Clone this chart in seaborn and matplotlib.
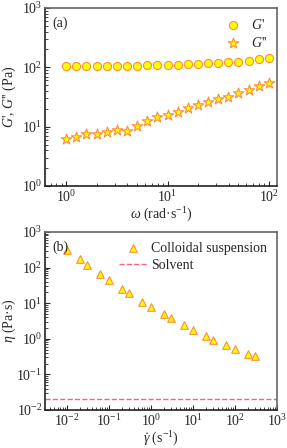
import numpy as np
import pandas as pd
import matplotlib
matplotlib.use("Agg")
import matplotlib.pyplot as plt
import seaborn as sns
from matplotlib.ticker import LogLocator, NullFormatter

# ---- data (panel a) ----
omega = [1.0, 1.26, 1.58, 2.0, 2.51, 3.16, 3.98, 5.01, 6.31, 7.94, 10.0,
         12.6, 15.8, 20.0, 25.1, 31.6, 39.8, 50.1, 63.1, 79.4, 100.0]
G_storage = [104, 104, 104, 104, 105, 105, 105, 106, 108, 108, 109,
             111, 112, 114, 117, 118, 121, 124, 128, 138, 143]
G_loss = [6.3, 6.6, 7.5, 7.5, 8.1, 8.8, 8.6, 10.3, 12.4, 14.5, 15.5,
          17.6, 20.3, 22.8, 25.6, 29.5, 32.2, 37.6, 41.5, 47.6, 53.4]

# ---- data (panel b) ----
shear_rate = [0.01, 0.02, 0.03, 0.06, 0.1, 0.2, 0.3, 0.6, 1, 2, 3, 6,
              10, 20, 30, 60, 100, 200, 300]
viscosity = [305, 170, 115, 68, 44, 25, 19, 11, 7.7, 4.9, 3.8, 2.4,
             1.8, 1.19, 0.94, 0.66, 0.52, 0.38, 0.33]
solvent_visc = 0.02

sns.set_style("ticks")
plt.rcParams['font.family'] = ['Liberation Serif', 'DejaVu Serif']
plt.rcParams['mathtext.fontset'] = 'custom'
plt.rcParams['mathtext.rm'] = 'Liberation Serif'
plt.rcParams['mathtext.it'] = 'Liberation Serif:italic'
plt.rcParams['mathtext.bf'] = 'Liberation Serif:bold'
plt.rcParams['font.size'] = 10

face = '#FFFF00'
edge = '#FF8C3A'
FS = 10

fig = plt.figure(figsize=(2.87, 4.48), dpi=100)
ax1 = fig.add_axes([45/287, 1-186/448, 232/287, 178/448])
ax2 = fig.add_axes([45/287, 1-410/448, 232/287, 178/448])

dfa = pd.DataFrame({'omega': omega, 'Gp': G_storage, 'Gpp': G_loss})
sns.scatterplot(data=dfa, x='omega', y='Gp', ax=ax1, marker='o', s=34,
                color=face, edgecolor=edge, linewidth=0.8, label="$G$'", zorder=3)
sns.scatterplot(data=dfa, x='omega', y='Gpp', ax=ax1, marker='*', s=62,
                color=face, edgecolor=edge, linewidth=0.8, label="$G$''", zorder=3)
ax1.set_xscale('log'); ax1.set_yscale('log')
ax1.set_xlim(10**-0.21, 10**2.08)
ax1.set_ylim(1, 1000)
ax1.set_xlabel(r"$\omega$ (rad·s$^{-1}$)", labelpad=1, fontsize=FS)
ax1.set_ylabel(r"$G$', $G$'' (Pa)", fontsize=FS)
ax1.yaxis.set_label_coords(-0.115, 0.5)
ax1.text(0.03, 0.95, '(a)', transform=ax1.transAxes, ha='left', va='top', fontsize=FS)
ax1.legend(loc='upper right', frameon=False, fontsize=FS, handletextpad=0.3,
           borderaxespad=0.3, labelspacing=0.3)

dfb = pd.DataFrame({'rate': shear_rate, 'eta': viscosity})
sns.scatterplot(data=dfb, x='rate', y='eta', ax=ax2, marker='^', s=30,
                color=face, edgecolor=edge, linewidth=0.8,
                label='Colloidal suspension', zorder=3)
ax2.set_xscale('log'); ax2.set_yscale('log')
ax2.set_xlim(10**-2.52, 1000)
ax2.set_ylim(0.01, 1000)
xl = ax2.get_xlim()
sns.lineplot(x=list(xl), y=[solvent_visc, solvent_visc], ax=ax2, color='#FF6078',
             linestyle='--', linewidth=1.0, label='Solvent')
ax2.set_xlim(xl)
ax2.set_xlabel(r"$\dot{\gamma}$ (s$^{-1}$)", labelpad=1, fontsize=FS)
ax2.set_ylabel(r"$\eta$ (Pa·s)", fontsize=FS)
ax2.yaxis.set_label_coords(-0.115, 0.5)
ax2.text(0.03, 0.95, '(b)', transform=ax2.transAxes, ha='left', va='top', fontsize=FS)
ax2.legend(loc='upper right', frameon=False, fontsize=FS, handletextpad=0.3,
           borderaxespad=0.3, labelspacing=0.3, handlelength=2.0)

for ax in (ax1, ax2):
    ax.xaxis.set_major_locator(LogLocator(base=10, numticks=20))
    ax.yaxis.set_major_locator(LogLocator(base=10, numticks=20))
    ax.xaxis.set_minor_locator(LogLocator(base=10, subs=np.arange(2, 10), numticks=20))
    ax.yaxis.set_minor_locator(LogLocator(base=10, subs=np.arange(2, 10), numticks=20))
    ax.xaxis.set_minor_formatter(NullFormatter())
    ax.yaxis.set_minor_formatter(NullFormatter())
    ax.tick_params(which='both', direction='in', top=False, right=False, labelsize=FS, pad=2)
    ax.tick_params(which='major', length=3.5, width=0.8)
    ax.tick_params(which='minor', length=2, width=0.6)
    for s in ('left', 'bottom'):
        ax.spines[s].set_linewidth(1.2)
        ax.spines[s].set_color('#222222')
    for s in ('top', 'right'):
        ax.spines[s].set_visible(True)
        ax.spines[s].set_linewidth(1.2)
        ax.spines[s].set_color('#666666')

fig.savefig('out.png', dpi=100)
